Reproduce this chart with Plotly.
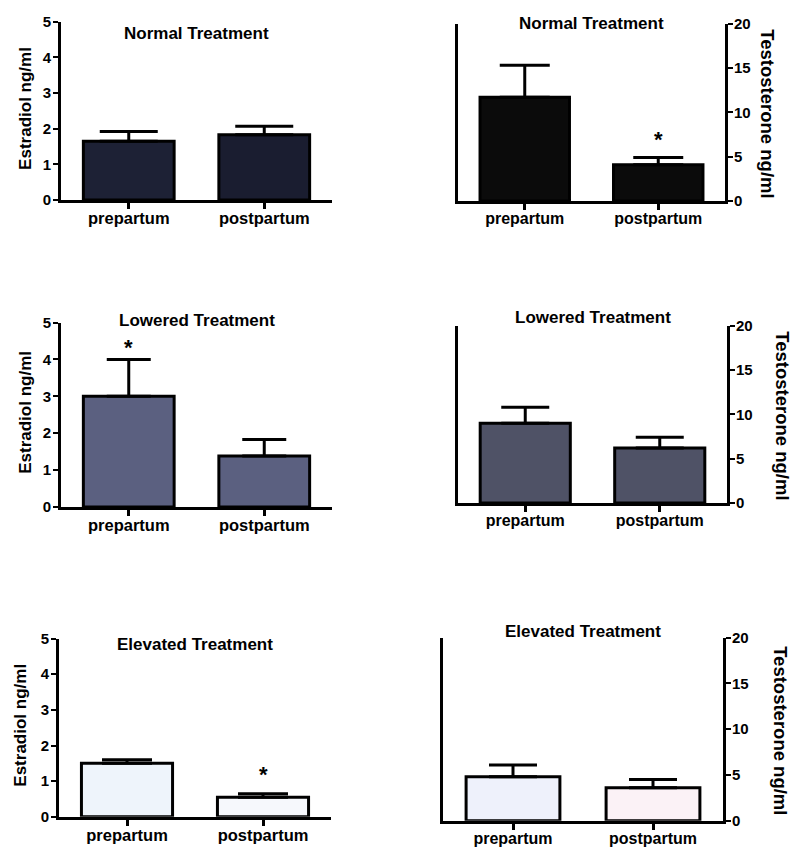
import plotly.graph_objects as go

categories = ["prepartum", "postpartum"]

# Estradiol (ng/ml), left column
estradiol_normal = [1.65, 1.83]
estradiol_normal_err = [0.27, 0.24]
estradiol_lowered = [3.0, 1.38]
estradiol_lowered_err = [1.0, 0.45]
estradiol_elevated = [1.5, 0.55]
estradiol_elevated_err = [0.1, 0.1]

# Testosterone (ng/ml), right column
testo_normal = [11.7, 4.1]
testo_normal_err = [3.6, 0.8]
testo_lowered = [9.0, 6.2]
testo_lowered_err = [1.8, 1.2]
testo_elevated = [4.8, 3.6]
testo_elevated_err = [1.3, 0.9]

titles = ["Normal Treatment", "Normal Treatment", "Lowered Treatment",
          "Lowered Treatment", "Elevated Treatment", "Elevated Treatment"]

# significance markers: (panel, category, y value)
stars = [(2, "postpartum", 7.3), (3, "prepartum", 4.4), (5, "postpartum", 1.27)]

W, H = 800, 860
FONT = "Arial, Liberation Sans, sans-serif"

# panel pixel boxes (as seen in the picture): x0, x1, ytop, ybottom
boxes = [
    (60, 331, 20, 199),
    (457, 724, 22, 200),
    (60, 331, 322, 507),
    (457, 726, 325, 503),
    (58, 330, 639, 818),
    (442, 722, 638, 822),
]

panels = [
    (estradiol_normal, estradiol_normal_err, ["#1d2135", "#1a1d30"], 29),
    (testo_normal, testo_normal_err, ["#0b0b0b", "#0b0b0b"], 25),
    (estradiol_lowered, estradiol_lowered_err, ["#5b6080", "#5b6080"], 22),
    (testo_lowered, testo_lowered_err, ["#4f5266", "#4f5266"], 24),
    (estradiol_elevated, estradiol_elevated_err, ["#eef4fb", "#f6f8fc"], 25),
    (testo_elevated, testo_elevated_err, ["#eef1fb", "#fbf2f6"], 24),
]

fig = go.Figure()

# calibration from picture pixels to paper fractions
def px_x(p):
    return (p - 7) / W

def px_y(p):
    return 1 - ((p - 15.3) / 0.9837) / H

annotations = []
for i, ((vals, errs, cols, cap), box, title) in enumerate(zip(panels, boxes, titles), start=1):
    x0, x1, yt, yb = box
    right = (i % 2 == 0)
    suffix = "" if i == 1 else str(i)
    fig.add_trace(go.Bar(
        x=categories, y=vals,
        marker=dict(color=cols, line=dict(color="black", width=3)),
        width=0.67,
        error_y=dict(type="data", array=errs, arrayminus=[0, 0], symmetric=False,
                     color="black", thickness=3, width=cap),
        xaxis="x" + suffix, yaxis="y" + suffix, showlegend=False,
    ))
    xa = dict(domain=[px_x(x0), px_x(x1)], anchor="y" + suffix, type="category",
              range=[-0.5, 1.5], showline=True, linecolor="black", linewidth=3,
              ticks="outside", ticklen=6, tickwidth=2.5, tickcolor="black",
              ticklabelstandoff=-5,
              tickfont=dict(family=FONT, size=16.5 if not right else 16, color="black", weight="bold"),
              showgrid=False, zeroline=False, fixedrange=True)
    if right:
        ya = dict(domain=[px_y(yb), px_y(yt)], anchor="x" + suffix, side="right",
                  range=[0, 20], tickvals=[0, 5, 10, 15, 20], showline=True, mirror=True,
                  linecolor="black", linewidth=3, ticks="outside", ticklen=5, tickwidth=2,
                  tickcolor="black", ticklabelstandoff=-2,
                  tickfont=dict(family=FONT, size=15, color="black", weight="bold"),
                  showgrid=False, zeroline=False)
    else:
        ya = dict(domain=[px_y(yb), px_y(yt)], anchor="x" + suffix,
                  range=[0, 5], tickvals=[0, 1, 2, 3, 4, 5], showline=True,
                  linecolor="black", linewidth=3, ticks="outside", ticklen=5, tickwidth=2,
                  tickcolor="black", ticklabelstandoff=-1,
                  tickfont=dict(family=FONT, size=15, color="black", weight="bold"),
                  showgrid=False, zeroline=False)
    fig.update_layout(**{"xaxis" + suffix: xa, "yaxis" + suffix: ya})

    # panel title
    title_y = {1: 32, 2: 22, 3: 320, 4: 317, 5: 645, 6: 632}[i]
    annotations.append(dict(text="<b>%s</b>" % title, xref="paper", yref="paper",
                            x=px_x((x0 + x1) / 2), y=px_y(title_y), showarrow=False,
                            xanchor="center", yanchor="middle",
                            font=dict(family=FONT, size=17, color="black")))
    # axis title
    if right:
        lx = {2: 767, 4: 782, 6: 780}[i]
        annotations.append(dict(text="<b>Testosterone ng/ml</b>", xref="paper", yref="paper",
                                x=px_x(lx), y=px_y((yt + yb) / 2 + 1), showarrow=False,
                                textangle=90, xanchor="center", yanchor="middle",
                                font=dict(family=FONT, size=18.5, color="black")))
    else:
        lx = {1: 25, 3: 25, 5: 20}[i]
        annotations.append(dict(text="<b>Estradiol ng/ml</b>", xref="paper", yref="paper",
                                x=px_x(lx), y=px_y((yt + yb) / 2 - 2), showarrow=False,
                                textangle=-90, xanchor="center", yanchor="middle",
                                font=dict(family=FONT, size=17, color="black")))

for (p, cat, yv) in stars:
    suffix = "" if p == 1 else str(p)
    annotations.append(dict(text="<b>*</b>", xref="x" + suffix, yref="y" + suffix,
                            x=cat, y=yv, showarrow=False, xanchor="center", yanchor="middle",
                            yshift=-3, font=dict(family=FONT, size=22, color="black")))

fig.update_layout(width=W, height=H, margin=dict(l=0, r=0, t=0, b=0),
                  paper_bgcolor="white", plot_bgcolor="white",
                  annotations=annotations, bargap=0.33)

fig.write_html("out.html")
